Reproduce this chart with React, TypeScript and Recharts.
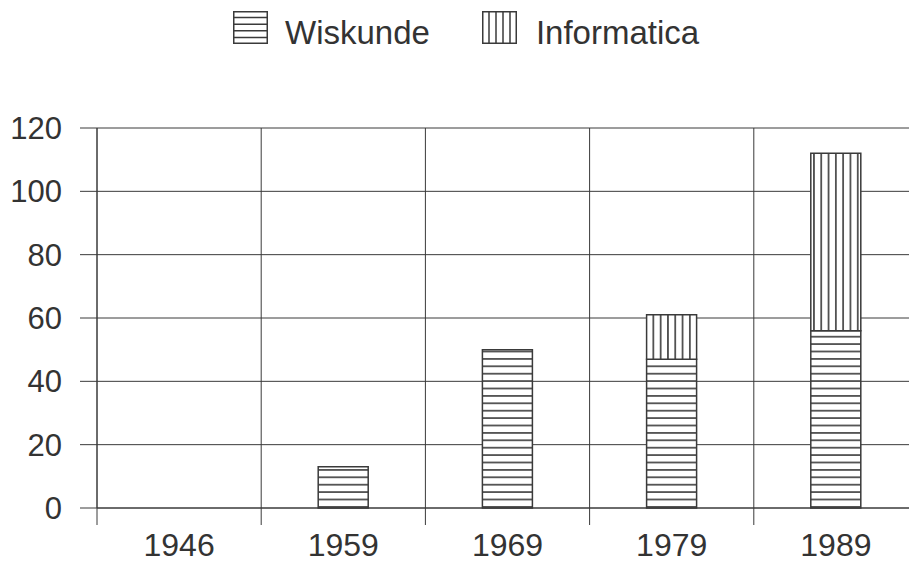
import React from 'react';
import { BarChart, Bar, XAxis, YAxis, CartesianGrid, Legend } from 'recharts';

const years = ['1946', '1959', '1969', '1979', '1989'];
const wiskunde = [0, 13, 50, 47, 56];
const informatica = [0, 0, 0, 14, 56];
const yTicks = [0, 20, 40, 60, 80, 100, 120];

const data = years.map((year, i) => ({
  year,
  wiskunde: wiskunde[i],
  informatica: informatica[i],
}));

const CHART_W = 930;
const CHART_H = 563;
const MARGIN = { top: 128, right: 12, bottom: 0, left: 0 };
const Y_AXIS_W = 97;
const PLOT_W = CHART_W - MARGIN.left - MARGIN.right - Y_AXIS_W;
const BAND = PLOT_W / years.length;

const INK = '#3a3a3a';
const FONT = '"Liberation Sans", Arial, Helvetica, sans-serif';

function YearTick({ x, y, payload }: any) {
  return (
    <g>
      <line x1={x - BAND / 2} x2={x - BAND / 2} y1={y} y2={y + 17} stroke={INK} strokeWidth={1} />
      <text x={x} y={y + 48} textAnchor="middle" fontSize={32} fill="#333" fontFamily={FONT}>
        {payload.value}
      </text>
    </g>
  );
}

function LegendIcon({ kind }: { kind: 'h' | 'v' }) {
  const lines = [1, 2, 3, 4];
  return (
    <svg width={35} height={33} style={{ display: 'block' }}>
      <rect x={0.75} y={0.75} width={33.5} height={31.5} fill="#fff" stroke={INK} strokeWidth={1.5} />
      {kind === 'h'
        ? lines.map((k) => (
            <line key={k} x1={0} x2={35} y1={k * 6.6} y2={k * 6.6} stroke={INK} strokeWidth={1.5} />
          ))
        : lines.map((k) => (
            <line key={k} y1={0} y2={33} x1={k * 7} x2={k * 7} stroke={INK} strokeWidth={1.5} />
          ))}
    </svg>
  );
}

function ChartLegend() {
  return (
    <div style={{ display: 'flex', alignItems: 'flex-end', fontFamily: FONT, fontSize: 33, color: '#333' }}>
      <LegendIcon kind="h" />
      <span style={{ marginLeft: 17, lineHeight: '33px', position: 'relative', top: 5 }}>Wiskunde</span>
      <div style={{ marginLeft: 52 }}>
        <LegendIcon kind="v" />
      </div>
      <span style={{ marginLeft: 19, lineHeight: '33px', position: 'relative', top: 5 }}>Informatica</span>
    </div>
  );
}

export default function App() {
  return (
    <div
      style={{
        position: 'absolute',
        left: 0,
        top: 0,
        width: 909,
        height: 563,
        overflow: 'hidden',
        background: '#fff',
      }}
    >
      <BarChart width={CHART_W} height={CHART_H} data={data} margin={MARGIN}>
        <defs>
          <pattern id="hLines" width={8} height={7.4} patternUnits="userSpaceOnUse">
            <rect width={8} height={7.4} fill="#fff" />
            <line x1={0} x2={8} y1={3.7} y2={3.7} stroke={INK} strokeWidth={1.6} />
          </pattern>
          <pattern id="vLines" width={7.3} height={8} patternUnits="userSpaceOnUse">
            <rect width={7.3} height={8} fill="#fff" />
            <line x1={3.65} x2={3.65} y1={0} y2={8} stroke={INK} strokeWidth={1.6} />
          </pattern>
        </defs>
        <CartesianGrid
          stroke={INK}
          strokeWidth={1}
          verticalCoordinatesGenerator={({ offset }: any) =>
            years.map((_, i) => offset.left + (i * offset.width) / years.length)
          }
        />
        <XAxis
          dataKey="year"
          height={55}
          tickLine={false}
          tickSize={0}
          tickMargin={0}
          axisLine={{ stroke: INK }}
          tick={<YearTick />}
          interval={0}
        />
        <YAxis
          width={Y_AXIS_W}
          domain={[0, 120]}
          ticks={yTicks}
          tickSize={17}
          tickMargin={18}
          tickLine={{ stroke: INK }}
          axisLine={{ stroke: INK }}
          tick={{ fontSize: 31, fill: '#333', fontFamily: FONT }}
        />
        <Legend
          verticalAlign="middle"
          layout="horizontal"
          wrapperStyle={{ top: 11, left: 233, width: 'auto' }}
          content={<ChartLegend />}
        />
        <Bar
          dataKey="wiskunde"
          name="Wiskunde"
          stackId="a"
          barSize={50}
          fill="url(#hLines)"
          stroke={INK}
          strokeWidth={1.5}
          isAnimationActive={false}
        />
        <Bar
          dataKey="informatica"
          name="Informatica"
          stackId="a"
          barSize={50}
          fill="url(#vLines)"
          stroke={INK}
          strokeWidth={1.5}
          isAnimationActive={false}
        />
      </BarChart>
    </div>
  );
}
